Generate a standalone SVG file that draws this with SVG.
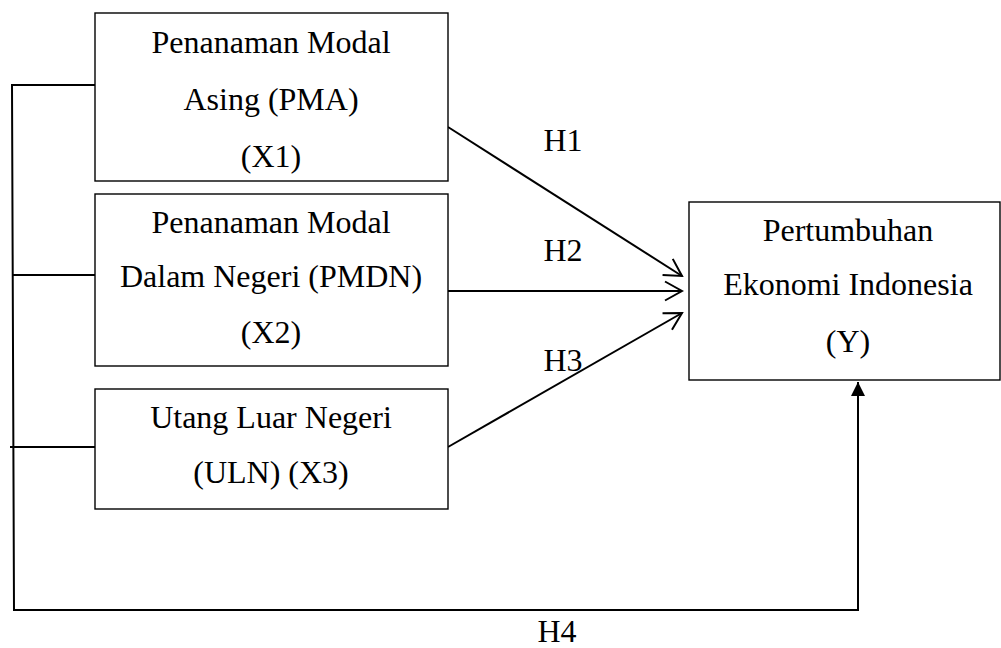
<svg xmlns="http://www.w3.org/2000/svg" width="1001" height="648" viewBox="0 0 1001 648">
<style>
.box{fill:#fff;stroke:#000;stroke-width:1.4}
.t{font-family:"Liberation Serif","Times New Roman",serif;font-size:32px;fill:#000;text-anchor:middle}
.c{fill:none;stroke:#000;stroke-width:2}
</style>
<defs>
<marker id="open" viewBox="0 0 20 22" refX="18" refY="11" markerWidth="20" markerHeight="22" markerUnits="userSpaceOnUse" orient="auto">
<path d="M1,1.5 L18,11 L1,20.5" fill="none" stroke="#000" stroke-width="2"/>
</marker>
<marker id="fill" viewBox="0 0 14 16" refX="14" refY="8" markerWidth="14" markerHeight="16" markerUnits="userSpaceOnUse" orient="auto">
<path d="M0,1 L14,8 L0,15 Z" fill="#000"/>
</marker>
</defs>
<g id="connectors">
<polyline class="c" points="95,85 12,85 14,610 858,610 858,382" marker-end="url(#fill)"/>
<line class="c" x1="12" y1="275" x2="96" y2="275"/>
<line class="c" x1="10" y1="447" x2="95" y2="447"/>
<line class="c" x1="448" y1="127" x2="682" y2="276" marker-end="url(#open)"/>
<line class="c" x1="448" y1="291" x2="682" y2="291" marker-end="url(#open)"/>
<line class="c" x1="448" y1="447" x2="682" y2="313" marker-end="url(#open)"/>
<text class="t" x="563" y="151">H1</text>
<text class="t" x="563" y="261">H2</text>
<text class="t" x="563" y="371">H3</text>
<text class="t" x="557" y="642">H4</text>
</g>
<g id="x1">
<rect class="box" x="95" y="13" width="353" height="168"/>
<text class="t" x="271" y="53">Penanaman Modal</text>
<text class="t" x="271" y="110">Asing (PMA)</text>
<text class="t" x="271" y="167">(X1)</text>
</g>
<g id="x2">
<rect class="box" x="95" y="194" width="353" height="172"/>
<text class="t" x="271" y="233">Penanaman Modal</text>
<text class="t" x="271" y="287">Dalam Negeri (PMDN)</text>
<text class="t" x="271" y="343">(X2)</text>
</g>
<g id="x3">
<rect class="box" x="95" y="389" width="353" height="120"/>
<text class="t" x="271" y="428">Utang Luar Negeri</text>
<text class="t" x="271" y="483">(ULN) (X3)</text>
</g>
<g id="y">
<rect class="box" x="689" y="202" width="311" height="178"/>
<text class="t" x="848" y="241">Pertumbuhan</text>
<text class="t" x="848" y="295">Ekonomi Indonesia</text>
<text class="t" x="848" y="352">(Y)</text>
</g>
</svg>
